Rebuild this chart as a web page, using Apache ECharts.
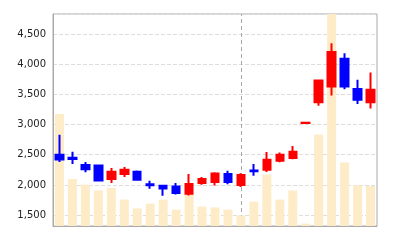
<!DOCTYPE html>
<html>
<head>
<meta charset="utf-8">
<script src="https://cdn.jsdelivr.net/npm/echarts@6/dist/echarts.min.js"></script>
<style>html,body{margin:0;padding:0;background:#fff}#c{width:400px;height:240px}</style>
</head>
<body>
<div id="c"></div>
<script>
var categories = ['1','2','3','4','5','6','7','8','9','10','11','12','13','14','15','16','17','18','19','20','21','22','23','24','25'];
var opens  = [2500, 2450, 2330, 2320, 2100, 2180, 2220, 2010, 1985, 1975, 1855, 2030, 2050, 2180, 2000, 2240, 2250, 2400, 2445, 3025, 3370, 3630, 4090, 3590, 3370];
var closes = [2420, 2430, 2260, 2075, 2220, 2250, 2085, 1995, 1940, 1865, 2015, 2100, 2190, 2050, 2165, 2225, 2415, 2500, 2550, 3030, 3730, 4200, 3630, 3410, 3575];
var lows   = [2380, 2345, 2210, 2060, 2030, 2130, 2080, 1935, 1820, 1840, 1825, 2005, 1990, 2010, 1965, 2150, 2215, 2375, 2425, 3025, 3310, 3480, 3585, 3340, 3265];
var highs  = [2830, 2550, 2380, 2325, 2280, 2295, 2240, 2070, 1995, 2030, 2180, 2130, 2210, 2235, 2195, 2345, 2545, 2535, 2645, 3030, 3735, 4345, 4180, 3740, 3860];
var volumes = [56000, 23500, 20700, 17800, 19000, 13200, 8800, 11200, 13200, 8200, 16500, 9700, 9300, 8200, 5300, 12200, 25700, 13200, 17800, 1200, 45700, 106000, 31800, 20300, 20000];
var markIndex = 14;

var ohlc = opens.map(function (o, i) { return [o, closes[i], lows[i], highs[i]]; });

var chart = echarts.init(document.getElementById('c'), null, {renderer: 'canvas'});
chart.setOption({
  animation: false,
  grid: {left: 53, right: 23, top: 14, bottom: 14, show: true, borderColor: '#aaa', borderWidth: 1, backgroundColor: 'transparent'},
  xAxis: {
    type: 'category', data: categories, boundaryGap: true,
    axisLine: {show: true, lineStyle: {color: '#aaa'}},
    axisLabel: {show: false},
    axisTick: {show: false},
    splitLine: {show: false}
  },
  yAxis: [{
    type: 'value', min: 1320, max: 4830, splitNumber: 7,
    axisLine: {show: true, lineStyle: {color: '#aaa'}},
    axisTick: {show: false},
    axisLabel: {margin: 7, color: '#222', fontFamily: 'DejaVu Sans', fontSize: 10, showMinLabel: false, showMaxLabel: false,
      formatter: function (v) { return v.toLocaleString('en-US'); }},
    splitLine: {show: true, lineStyle: {color: '#ddd', type: 'dashed'}}
  }, {
    type: 'value', min: 0, max: 'dataMax', show: false, splitLine: {show: false}
  }],
  series: [{
    type: 'bar', yAxisIndex: 1, data: volumes, barWidth: 9,
    itemStyle: {color: '#feecc9'}, silent: true
  }, {
    type: 'candlestick', data: ohlc, barWidth: 8,
    itemStyle: {color: '#ff0000', color0: '#0000ff', borderColor: '#ff0000', borderColor0: '#0000ff', borderWidth: 2},
    markLine: {
      silent: true, z: 2, symbol: ['none', 'none'], label: {show: false},
      lineStyle: {type: [4, 3], color: '#a8a8a8', width: 1},
      emphasis: {disabled: true},
      data: [{xAxis: markIndex}]
    }
  }]
});
</script>
</body>
</html>
